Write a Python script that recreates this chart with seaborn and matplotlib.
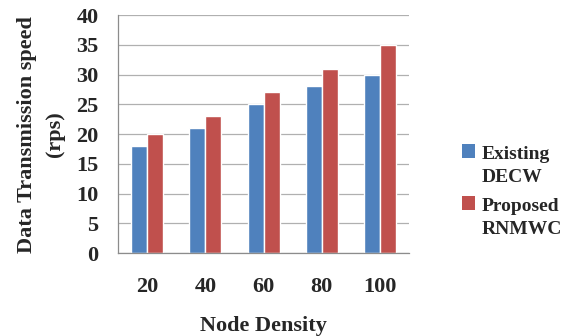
import matplotlib
matplotlib.use("Agg")
import matplotlib.pyplot as plt
import seaborn as sns
import pandas as pd
from matplotlib.patches import Patch, Rectangle
from matplotlib.legend_handler import HandlerPatch

categories = ["20", "40", "60", "80", "100"]
existing = [18, 21, 25, 28, 30]
proposed = [20, 23, 27, 31, 35]
series_names = ["Existing\nDECW", "Proposed\nRNMWC"]
colors = ["#4F81BD", "#C0504D"]

df = pd.DataFrame({
    "Node Density": categories * 2,
    "speed": existing + proposed,
    "series": [series_names[0]] * len(categories) + [series_names[1]] * len(categories),
})

sns.set_style("white")
plt.rcParams["font.family"] = ["Liberation Serif", "DejaVu Serif"]
plt.rcParams["font.weight"] = "bold"

fig = plt.figure(figsize=(5.77, 3.36), dpi=100)
ax = fig.add_axes([0.2045, 0.247, 0.5045, 0.708])

sns.barplot(data=df, x="Node Density", y="speed", hue="series", palette=colors,
            width=0.55, saturation=1, ax=ax, legend=False)

ax.set_ylim(0, 40)
ax.set_yticks(range(0, 41, 5))
ax.set_xlim(-0.5, len(categories) - 0.5)
ax.yaxis.grid(True, color="#B0B0B0", linewidth=0.9)
ax.set_axisbelow(True)
for s in ["top", "right"]:
    ax.spines[s].set_visible(False)
for s in ["left", "bottom"]:
    ax.spines[s].set_color("#8C8C8C")
    ax.spines[s].set_linewidth(0.9)

ax.set_xticks([i - 0.5 for i in range(len(categories) + 1)], minor=True)
ax.tick_params(axis="x", which="minor", length=5, color="#8C8C8C", width=0.9, direction="out")
ax.tick_params(axis="x", which="major", length=0, pad=17, labelsize=16)
ax.tick_params(axis="y", length=0, pad=14, labelsize=16)
for lab in ax.get_xticklabels() + ax.get_yticklabels():
    lab.set_fontweight("bold")

ax.set_xlabel("Node Density", fontsize=16, fontweight="bold", labelpad=14)
ax.set_ylabel("Data Transmission speed\n(rps)", fontsize=16, fontweight="bold", labelpad=8,
              linespacing=1.55)


def top_square(legend, orig_handle, xdescent, ydescent, width, height, fontsize):
    s = 0.7 * fontsize
    return Rectangle((-xdescent, -ydescent + height * 0.5 + 0.75 * fontsize - s / 2), s, s)


handles = [Patch(facecolor=c, edgecolor="none") for c in colors]
fig.legend(handles, series_names, loc="center left", bbox_to_anchor=(0.77, 0.429),
           frameon=False, prop={"weight": "bold", "size": 14},
           handlelength=0.7, handleheight=0.7, handletextpad=0.3, labelspacing=0.65,
           handler_map={Patch: HandlerPatch(patch_func=top_square)})
for t in fig.legends[0].get_texts():
    t.set_linespacing(1.45)

fig.savefig("out.png", dpi=100)
